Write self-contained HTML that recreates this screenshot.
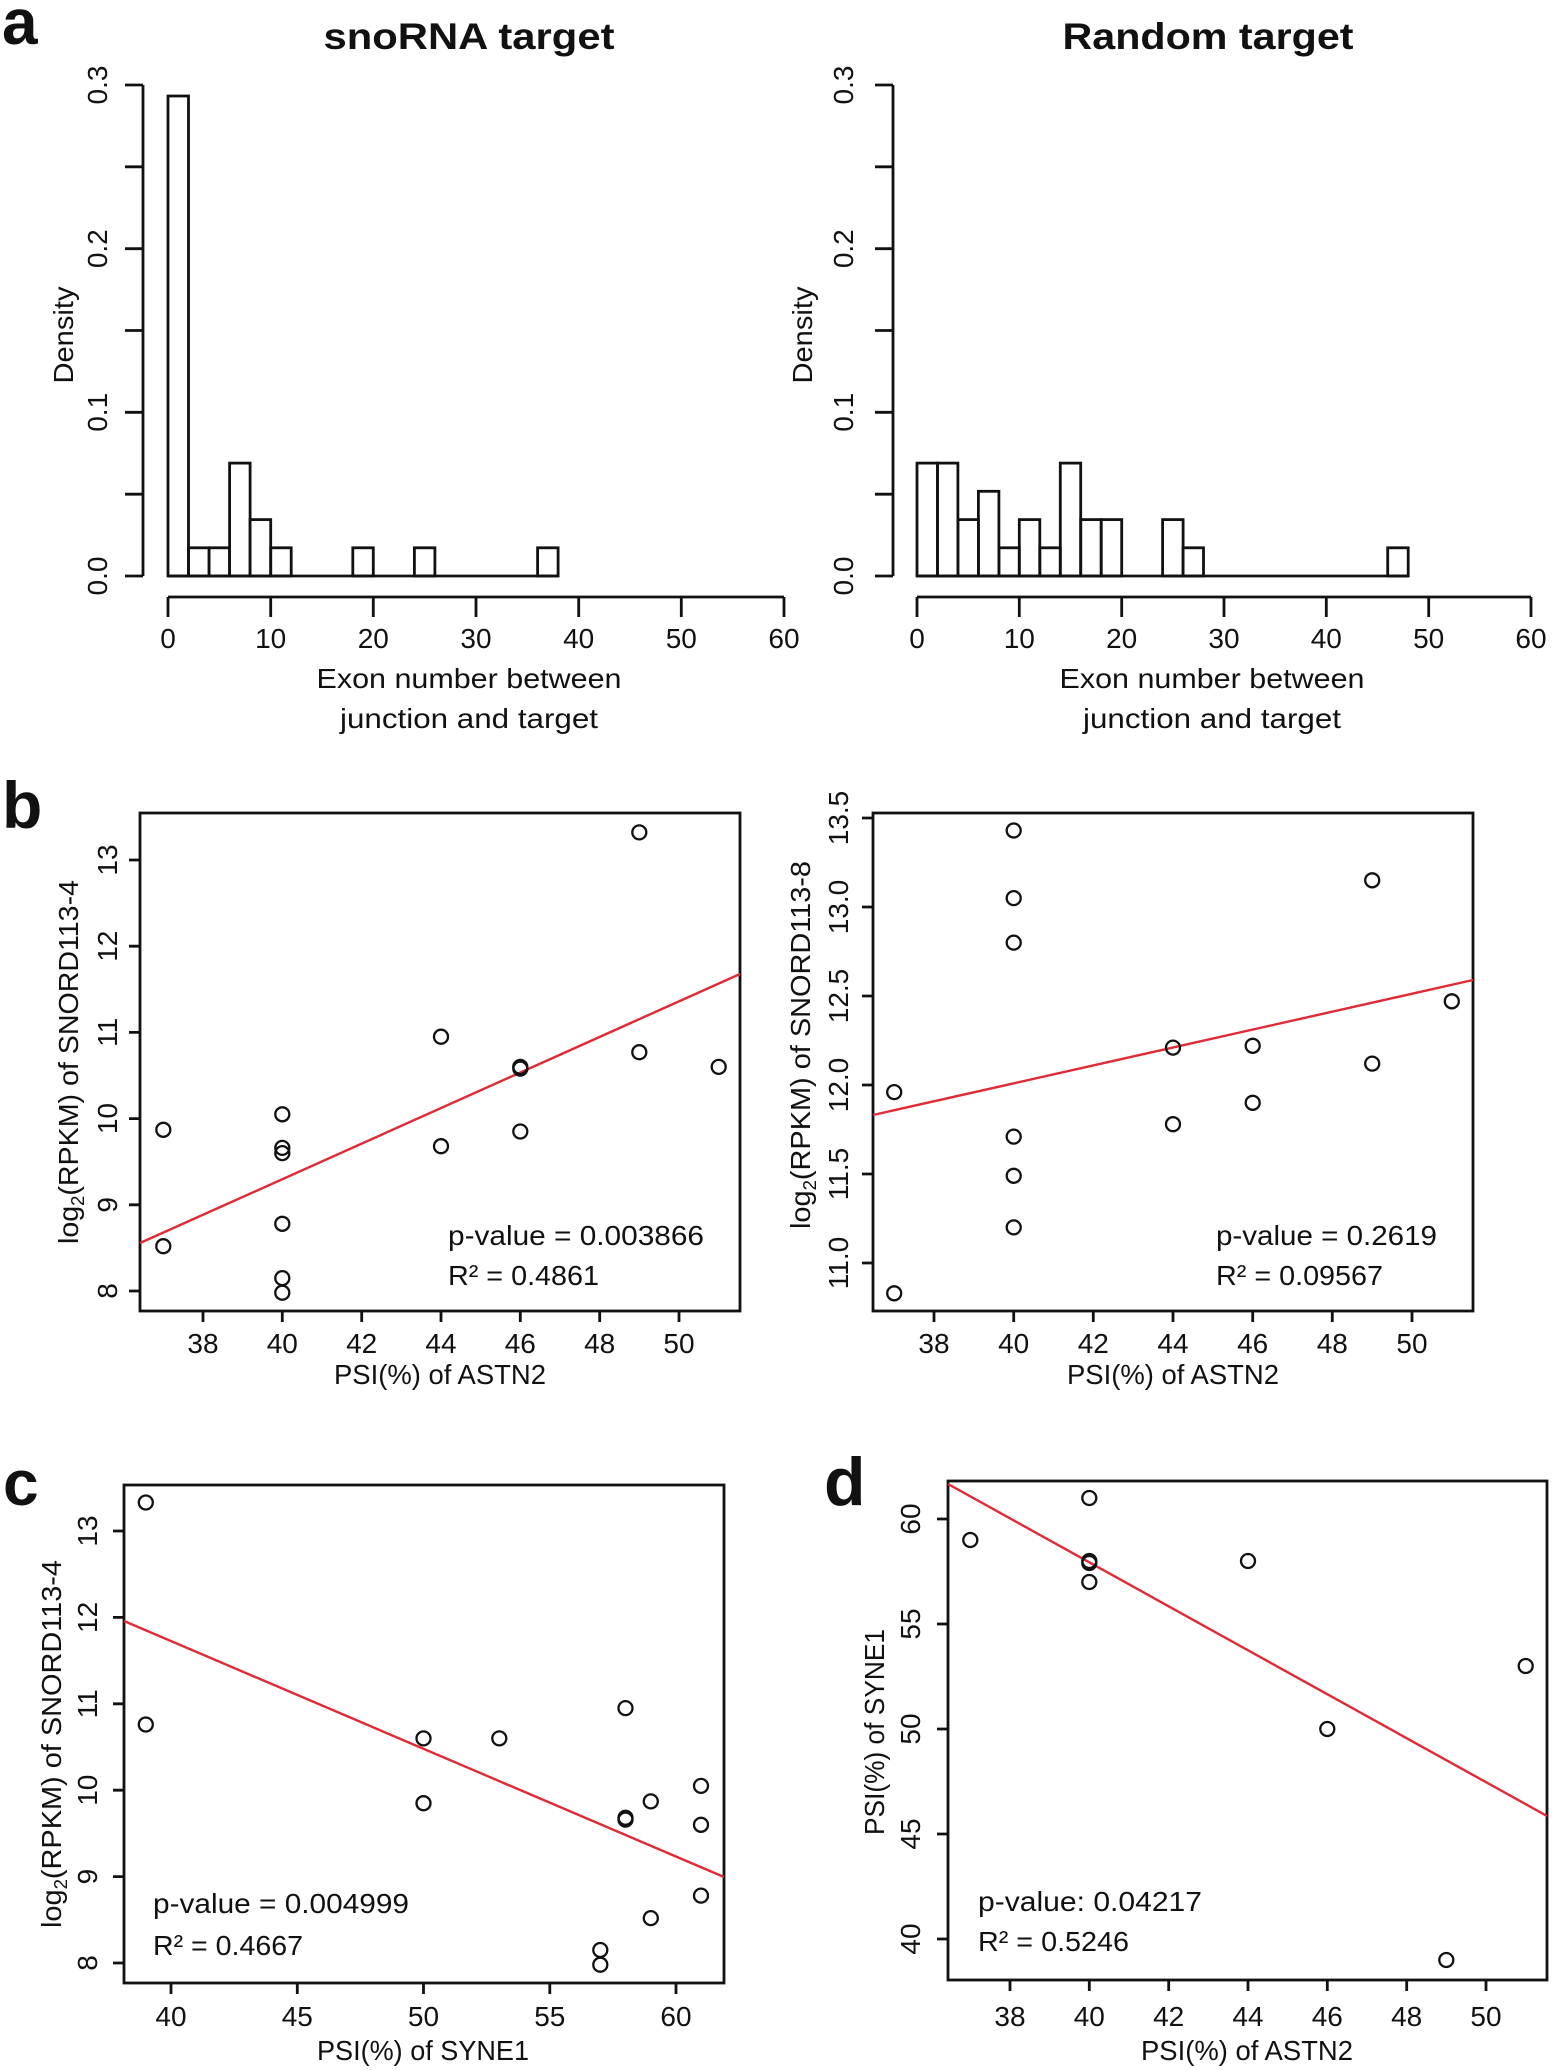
<!DOCTYPE html>
<html><head><meta charset="utf-8"><style>
html,body{margin:0;padding:0;background:#fff}
svg{display:block}
text{font-family:"Liberation Sans",sans-serif;fill:#111}
.t{font-size:28px}
.b{font-weight:bold}
</style></head><body>
<svg width="1552" height="2070" viewBox="0 0 1552 2070" xmlns="http://www.w3.org/2000/svg">
<g stroke="#111" stroke-width="2.8" fill="none">
<path d="M143 576V85M143 576h-18M143 494.2h-18M143 412.3h-18M143 330.5h-18M143 248.7h-18M143 166.8h-18M143 85h-18"/>
<path d="M168 597H784M168 597v20M270.7 597v20M373.3 597v20M476 597v20M578.7 597v20M681.3 597v20M784 597v20"/>
<path d="M168 576H558.1"/>
<rect x="168" y="96" width="20.5" height="480"/>
<rect x="188.5" y="547.8" width="20.6" height="28.2"/>
<rect x="209.1" y="547.8" width="20.5" height="28.2"/>
<rect x="229.6" y="463.1" width="20.5" height="112.9"/>
<rect x="250.1" y="519.6" width="20.6" height="56.4"/>
<rect x="270.7" y="547.8" width="20.5" height="28.2"/>
<rect x="352.8" y="547.8" width="20.5" height="28.2"/>
<rect x="414.4" y="547.8" width="20.5" height="28.2"/>
<rect x="537.6" y="547.8" width="20.5" height="28.2"/>
<path d="M893 576V85M893 576h-18M893 494.2h-18M893 412.3h-18M893 330.5h-18M893 248.7h-18M893 166.8h-18M893 85h-18"/>
<path d="M917 597H1531M917 597v20M1019.3 597v20M1121.7 597v20M1224 597v20M1326.3 597v20M1428.7 597v20M1531 597v20"/>
<path d="M917 576H1408.2"/>
<rect x="917" y="463.1" width="20.5" height="112.9"/>
<rect x="937.5" y="463.1" width="20.4" height="112.9"/>
<rect x="957.9" y="519.6" width="20.5" height="56.4"/>
<rect x="978.4" y="491.3" width="20.5" height="84.7"/>
<rect x="998.9" y="547.8" width="20.4" height="28.2"/>
<rect x="1019.3" y="519.6" width="20.5" height="56.4"/>
<rect x="1039.8" y="547.8" width="20.5" height="28.2"/>
<rect x="1060.3" y="463.1" width="20.4" height="112.9"/>
<rect x="1080.7" y="519.6" width="20.5" height="56.4"/>
<rect x="1101.2" y="519.6" width="20.5" height="56.4"/>
<rect x="1162.6" y="519.6" width="20.5" height="56.4"/>
<rect x="1183.1" y="547.8" width="20.4" height="28.2"/>
<rect x="1387.7" y="547.8" width="20.5" height="28.2"/>
<rect x="140" y="813" width="600" height="498"/>
<path d="M203 1311v11M282.3 1311v11M361.7 1311v11M441 1311v11M520.3 1311v11M599.7 1311v11M679 1311v11"/>
<path d="M140 1291h-11M140 1204.8h-11M140 1118.6h-11M140 1032.4h-11M140 946.2h-11M140 860h-11"/>
<rect x="873" y="813" width="600" height="498"/>
<path d="M934 1311v11M1013.7 1311v11M1093.3 1311v11M1173 1311v11M1252.7 1311v11M1332.3 1311v11M1412 1311v11"/>
<path d="M873 1263h-11M873 1174h-11M873 1085h-11M873 996h-11M873 907h-11M873 818h-11"/>
<rect x="124" y="1485" width="600" height="498"/>
<path d="M171 1983v11M297.3 1983v11M423.5 1983v11M549.8 1983v11M676 1983v11"/>
<path d="M124 1963h-11M124 1876.6h-11M124 1790.2h-11M124 1703.8h-11M124 1617.4h-11M124 1531h-11"/>
<rect x="948" y="1481" width="599" height="499"/>
<path d="M1010 1980v11M1089.3 1980v11M1168.7 1980v11M1248 1980v11M1327.3 1980v11M1406.7 1980v11M1486 1980v11"/>
<path d="M948 1939h-11M948 1834h-11M948 1729h-11M948 1624h-11M948 1519h-11"/>
</g>
<g stroke="#e02a35" stroke-width="2.4">
<line x1="140" y1="1243" x2="740" y2="974"/>
<line x1="873" y1="1115" x2="1473" y2="980"/>
<line x1="124" y1="1621" x2="724" y2="1877"/>
<line x1="948" y1="1484" x2="1547" y2="1816"/>
</g>
<g stroke="#111" stroke-width="2.3" fill="none">
<circle cx="163.3" cy="1129.8" r="7"/><circle cx="163.3" cy="1246.2" r="7"/>
<circle cx="282.3" cy="1114.3" r="7"/><circle cx="282.3" cy="1147.9" r="7"/><circle cx="282.3" cy="1153.1" r="7"/>
<circle cx="282.3" cy="1223.8" r="7"/><circle cx="282.3" cy="1278.1" r="7"/><circle cx="282.3" cy="1292.7" r="7"/>
<circle cx="441" cy="1036.7" r="7"/><circle cx="441" cy="1146.2" r="7"/>
<circle cx="520.3" cy="1066.9" r="7"/><circle cx="520.3" cy="1068.6" r="7"/><circle cx="520.3" cy="1131.5" r="7"/>
<circle cx="639.3" cy="832.4" r="7"/><circle cx="639.3" cy="1052.2" r="7"/><circle cx="718.7" cy="1066.9" r="7"/>
<circle cx="894.2" cy="1092.1" r="7"/><circle cx="894.2" cy="1293.3" r="7"/>
<circle cx="1013.7" cy="830.5" r="7"/><circle cx="1013.7" cy="898.1" r="7"/><circle cx="1013.7" cy="942.6" r="7"/>
<circle cx="1013.7" cy="1136.6" r="7"/><circle cx="1013.7" cy="1175.8" r="7"/><circle cx="1013.7" cy="1227.4" r="7"/>
<circle cx="1173" cy="1047.6" r="7"/><circle cx="1173" cy="1124.2" r="7"/>
<circle cx="1252.7" cy="1045.8" r="7"/><circle cx="1252.7" cy="1102.8" r="7"/>
<circle cx="1372.2" cy="880.3" r="7"/><circle cx="1372.2" cy="1063.6" r="7"/><circle cx="1451.8" cy="1001.3" r="7"/>
<circle cx="145.8" cy="1502.5" r="7"/><circle cx="145.8" cy="1724.5" r="7"/>
<circle cx="423.5" cy="1738.4" r="7"/><circle cx="423.5" cy="1803.2" r="7"/><circle cx="499.3" cy="1738.4" r="7"/>
<circle cx="625.5" cy="1708.1" r="7"/><circle cx="625.5" cy="1817.8" r="7"/><circle cx="625.5" cy="1819.6" r="7"/>
<circle cx="650.8" cy="1801.4" r="7"/><circle cx="650.8" cy="1918.1" r="7"/>
<circle cx="600.3" cy="1950" r="7"/><circle cx="600.3" cy="1964.7" r="7"/>
<circle cx="701" cy="1785.9" r="7"/><circle cx="701" cy="1824.8" r="7"/><circle cx="701" cy="1895.6" r="7"/>
<circle cx="970.3" cy="1540" r="7"/><circle cx="1089.3" cy="1498" r="7"/><circle cx="1089.3" cy="1561" r="7"/>
<circle cx="1089.3" cy="1563" r="7"/><circle cx="1089.3" cy="1582" r="7"/><circle cx="1248" cy="1561" r="7"/>
<circle cx="1327.3" cy="1729" r="7"/><circle cx="1446.3" cy="1960" r="7"/><circle cx="1525.7" cy="1666" r="7"/>
</g>
<text x="2" y="44" class="b" font-size="64">a</text>
<text x="2" y="828" class="b" font-size="66">b</text>
<text x="3" y="1505" class="b" font-size="64">c</text>
<text x="824" y="1505" class="b" font-size="68">d</text>
<text x="469" y="49" class="b" font-size="37" text-anchor="middle" textLength="291" lengthAdjust="spacingAndGlyphs">snoRNA target</text>
<text x="1208" y="49" class="b" font-size="37" text-anchor="middle" textLength="291" lengthAdjust="spacingAndGlyphs">Random target</text>
<g class="t" text-anchor="middle">
<text x="168" y="648">0</text><text x="270.7" y="648">10</text><text x="373.3" y="648">20</text><text x="476" y="648">30</text><text x="578.7" y="648">40</text><text x="681.3" y="648">50</text><text x="784" y="648">60</text>
<text x="917" y="648">0</text><text x="1019.3" y="648">10</text><text x="1121.7" y="648">20</text><text x="1224" y="648">30</text><text x="1326.3" y="648">40</text><text x="1428.7" y="648">50</text><text x="1531" y="648">60</text>
<text transform="translate(107,576) rotate(-90)">0.0</text>
<text transform="translate(107,412.3) rotate(-90)">0.1</text>
<text transform="translate(107,248.7) rotate(-90)">0.2</text>
<text transform="translate(107,85) rotate(-90)">0.3</text>
<text transform="translate(853,576) rotate(-90)">0.0</text>
<text transform="translate(853,412.3) rotate(-90)">0.1</text>
<text transform="translate(853,248.7) rotate(-90)">0.2</text>
<text transform="translate(853,85) rotate(-90)">0.3</text>
<text transform="translate(73,335) rotate(-90)" textLength="97" lengthAdjust="spacingAndGlyphs">Density</text>
<text transform="translate(812,335) rotate(-90)" textLength="97" lengthAdjust="spacingAndGlyphs">Density</text>
<text x="469" y="688" textLength="305" lengthAdjust="spacingAndGlyphs">Exon number between</text>
<text x="469" y="728" textLength="258" lengthAdjust="spacingAndGlyphs">junction and target</text>
<text x="1212" y="688" textLength="305" lengthAdjust="spacingAndGlyphs">Exon number between</text>
<text x="1212" y="728" textLength="258" lengthAdjust="spacingAndGlyphs">junction and target</text>
<text x="203" y="1353">38</text><text x="282.3" y="1353">40</text><text x="361.7" y="1353">42</text><text x="441" y="1353">44</text><text x="520.3" y="1353">46</text><text x="599.7" y="1353">48</text><text x="679" y="1353">50</text>
<text transform="translate(117,1291) rotate(-90)">8</text>
<text transform="translate(117,1204.8) rotate(-90)">9</text>
<text transform="translate(117,1118.6) rotate(-90)">10</text>
<text transform="translate(117,1032.4) rotate(-90)">11</text>
<text transform="translate(117,946.2) rotate(-90)">12</text>
<text transform="translate(117,860) rotate(-90)">13</text>
<text x="440" y="1384" textLength="212" lengthAdjust="spacingAndGlyphs">PSI(%) of ASTN2</text>
<text transform="translate(78,1062) rotate(-90)" textLength="364" lengthAdjust="spacingAndGlyphs">log<tspan font-size="18" dy="6">2</tspan><tspan dy="-6">(RPKM) of SNORD113-4</tspan></text>
<text x="934" y="1353">38</text><text x="1013.7" y="1353">40</text><text x="1093.3" y="1353">42</text><text x="1173" y="1353">44</text><text x="1252.7" y="1353">46</text><text x="1332.3" y="1353">48</text><text x="1412" y="1353">50</text>
<text transform="translate(848,1263) rotate(-90)">11.0</text>
<text transform="translate(848,1174) rotate(-90)">11.5</text>
<text transform="translate(848,1085) rotate(-90)">12.0</text>
<text transform="translate(848,996) rotate(-90)">12.5</text>
<text transform="translate(848,907) rotate(-90)">13.0</text>
<text transform="translate(848,818) rotate(-90)">13.5</text>
<text x="1173" y="1384" textLength="212" lengthAdjust="spacingAndGlyphs">PSI(%) of ASTN2</text>
<text transform="translate(810,1045) rotate(-90)" textLength="368" lengthAdjust="spacingAndGlyphs">log<tspan font-size="18" dy="6">2</tspan><tspan dy="-6">(RPKM) of SNORD113-8</tspan></text>
<text x="171" y="2026">40</text><text x="297.3" y="2026">45</text><text x="423.5" y="2026">50</text><text x="549.8" y="2026">55</text><text x="676" y="2026">60</text>
<text transform="translate(97,1963) rotate(-90)">8</text>
<text transform="translate(97,1876.6) rotate(-90)">9</text>
<text transform="translate(97,1790.2) rotate(-90)">10</text>
<text transform="translate(97,1703.8) rotate(-90)">11</text>
<text transform="translate(97,1617.4) rotate(-90)">12</text>
<text transform="translate(97,1531) rotate(-90)">13</text>
<text x="423" y="2060" textLength="212" lengthAdjust="spacingAndGlyphs">PSI(%) of SYNE1</text>
<text transform="translate(61,1744) rotate(-90)" textLength="368" lengthAdjust="spacingAndGlyphs">log<tspan font-size="18" dy="6">2</tspan><tspan dy="-6">(RPKM) of SNORD113-4</tspan></text>
<text x="1010" y="2026">38</text><text x="1089.3" y="2026">40</text><text x="1168.7" y="2026">42</text><text x="1248" y="2026">44</text><text x="1327.3" y="2026">46</text><text x="1406.7" y="2026">48</text><text x="1486" y="2026">50</text>
<text transform="translate(920,1939) rotate(-90)">40</text>
<text transform="translate(920,1834) rotate(-90)">45</text>
<text transform="translate(920,1729) rotate(-90)">50</text>
<text transform="translate(920,1624) rotate(-90)">55</text>
<text transform="translate(920,1519) rotate(-90)">60</text>
<text x="1247" y="2060" textLength="212" lengthAdjust="spacingAndGlyphs">PSI(%) of ASTN2</text>
<text transform="translate(884,1732) rotate(-90)" textLength="206" lengthAdjust="spacingAndGlyphs">PSI(%) of SYNE1</text>
</g>
<g class="t">
<text x="448" y="1245" textLength="256" lengthAdjust="spacingAndGlyphs">p-value = 0.003866</text>
<text x="448" y="1285" textLength="151" lengthAdjust="spacingAndGlyphs">R² = 0.4861</text>
<text x="1216" y="1245" textLength="221" lengthAdjust="spacingAndGlyphs">p-value = 0.2619</text>
<text x="1216" y="1285" textLength="167" lengthAdjust="spacingAndGlyphs">R² = 0.09567</text>
<text x="153" y="1913" textLength="256" lengthAdjust="spacingAndGlyphs">p-value = 0.004999</text>
<text x="153" y="1955" textLength="150" lengthAdjust="spacingAndGlyphs">R² = 0.4667</text>
<text x="978" y="1911" textLength="224" lengthAdjust="spacingAndGlyphs">p-value: 0.04217</text>
<text x="978" y="1951" textLength="151" lengthAdjust="spacingAndGlyphs">R² = 0.5246</text>
</g>
</svg>
</body></html>
